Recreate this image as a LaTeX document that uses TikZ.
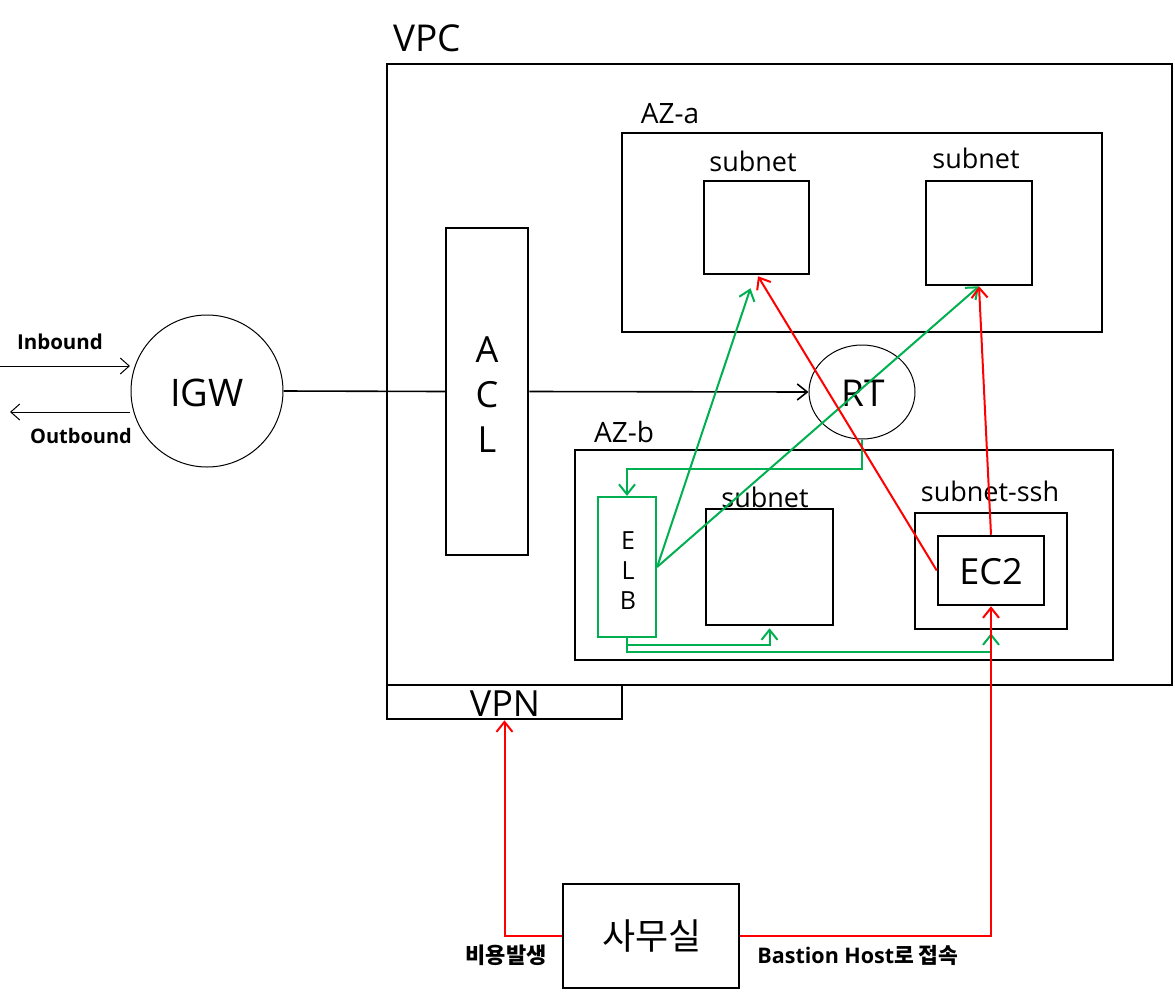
\documentclass[tikz,border=0pt]{standalone}
\usepackage{fontspec}
\setmainfont{Open Sans}
\newfontfamily\kr{Noto Sans CJK KR}
\usetikzlibrary{arrows.meta,calc,shapes.geometric}
\definecolor{agreen}{RGB}{0,176,80}
\definecolor{ared}{RGB}{255,0,0}
\tikzset{
  box/.style={draw=black, line width=2.5pt, rectangle, inner sep=0pt},
  gbox/.style={draw=agreen, line width=2.2pt, rectangle, inner sep=0pt},
  txt/.style={inner sep=0pt, anchor=center},
  tip/.style={-{Straight Barb[length=10pt,width=16pt]}},
  gline/.style={draw=agreen, line width=2pt, tip},
  rline/.style={draw=ared, line width=2pt, tip},
  kline/.style={draw=black, line width=1.6pt},
}
\begin{document}
\begin{tikzpicture}[x=1pt,y=-1pt]
\useasboundingbox (0,0) rectangle (1175,991);
% boxes
\node[box, minimum width=785pt, minimum height=621pt] (vpc) at (779.5,374.5) {};
\node[box, minimum width=235pt, minimum height=34pt] (vpn) at (504.5,702) {};
\node[box, minimum width=480pt, minimum height=199pt] (aza) at (862,232.5) {};
\node[box, minimum width=105pt, minimum height=93pt] (sa1) at (756.5,227.5) {};
\node[box, minimum width=106pt, minimum height=104pt] (sa2) at (979,233) {};
\node[box, minimum width=82pt, minimum height=327pt] (acl) at (487,391.5) {};
\node[circle, draw=black, line width=1pt, minimum size=152pt, inner sep=0pt] (igw) at (207,391) {};
\node[ellipse, draw=black, line width=1pt, minimum width=106pt, minimum height=94pt, inner sep=0pt] (rt) at (862,392) {};
\node[box, minimum width=538pt, minimum height=210pt] (azb) at (844,555) {};
\node[gbox, minimum width=58pt, minimum height=140pt] (elb) at (627,567) {};
\node[box, minimum width=127pt, minimum height=116pt] (sb) at (769.5,567) {};
\node[box, minimum width=152pt, minimum height=116pt] (ssh) at (991,571) {};
\node[box, minimum width=106pt, minimum height=69pt] (ec2) at (991,570.5) {};
\node[box, minimum width=176pt, minimum height=104pt] (office) at (651,936) {};
% texts
\node[txt, font=\fontsize{37}{40}\selectfont] (tvpc) at (427,38) {VPC};
\node[txt, font=\fontsize{36}{40}\selectfont] (tvpn) at (505,704) {VPN};
\node[txt, font=\fontsize{28}{30}\selectfont] (taza) at (670,114) {AZ-a};
\node[txt, font=\fontsize{27}{30}\selectfont] (tsa1) at (753,161) {subnet};
\node[txt, font=\fontsize{27}{30}\selectfont] (tsa2) at (976,158) {subnet};
\node[txt, font=\fontsize{36}{40}\selectfont] (tacla) at (487,350) {A};
\node[txt, font=\fontsize{36}{40}\selectfont] (taclc) at (487,395) {C};
\node[txt, font=\fontsize{36}{40}\selectfont] (tacll) at (487,440) {L};
\node[txt, font=\fontsize{38}{40}\selectfont] (tigw) at (207,393) {IGW};
\node[txt, font=\fontsize{37}{40}\selectfont] (trt) at (863,393) {RT};
\node[txt, font=\fontsize{28}{30}\selectfont] (tazb) at (624,432) {AZ-b};
\node[txt, font=\fontsize{25}{26}\selectfont] (telbe) at (628,541) {E};
\node[txt, font=\fontsize{25}{26}\selectfont] (telbl) at (628,571) {L};
\node[txt, font=\fontsize{25}{26}\selectfont] (telbb) at (628,601) {B};
\node[txt, font=\fontsize{27}{30}\selectfont] (tsb) at (765,497) {subnet};
\node[txt, font=\fontsize{27}{30}\selectfont] (tssh) at (990,491) {subnet-ssh};
\node[txt, font=\fontsize{36}{40}\selectfont] (tec2) at (991,572) {EC2};
\node[txt, font=\kr\fontsize{36}{40}\selectfont] (toffice) at (652,936) {사무실};
\node[txt, font=\bfseries\fontsize{20.5}{24}\selectfont] (tin) at (60,342) {Inbound};
\node[txt, font=\bfseries\fontsize{20}{24}\selectfont] (tout) at (81,436) {Outbound};
\node[txt, font=\kr\bfseries\fontsize{22}{24}\selectfont] (tcost) at (506,955) {비용발생};
\node[txt, font=\bfseries\fontsize{21.5}{24}\selectfont] (tbast) at (858,955) {Bastion Host{\kr 로 접속}};
% in/out arrows
\coordinate (inS) at (0,366);
\coordinate (inE) at (130,366);
\coordinate (outS) at (130,412);
\coordinate (outE) at (10,412);
\draw[line width=1pt, -{Straight Barb[length=9pt,width=16pt]}] (inS) -- (inE);
\draw[line width=1pt, -{Straight Barb[length=9pt,width=16pt]}] (outS) -- (outE);
% black connectors
\draw[kline] (igw.east) -- (acl.west);
\draw[kline, tip] (acl.east) -- (rt.west);
% green connectors
\draw[gline] (elb.east) -- ($(sa1.south)+(-6,13)$);
\draw[gline] (elb.east) -- (sa2.south);
\draw[gline] (rt.south) -- ++(0,29) -| (elb.north);
\draw[gline] (elb.south) -- ++(0,7) -| ($(sb.south)+(0,2)$);
\draw[gline] (elb.south) -- ++(0,14) -| ($(ssh.south)+(0,3)$);
% red connectors
\draw[rline] (ec2.west) -- ($(sa1.south)+(1.5,1)$);
\draw[rline] (ec2.north) -- ($(sa2.south)+(0,0)$);
\draw[rline] (office.east) -| (ec2.south);
\draw[rline] (office.west) -| (vpn.south);
\end{tikzpicture}
\end{document}
